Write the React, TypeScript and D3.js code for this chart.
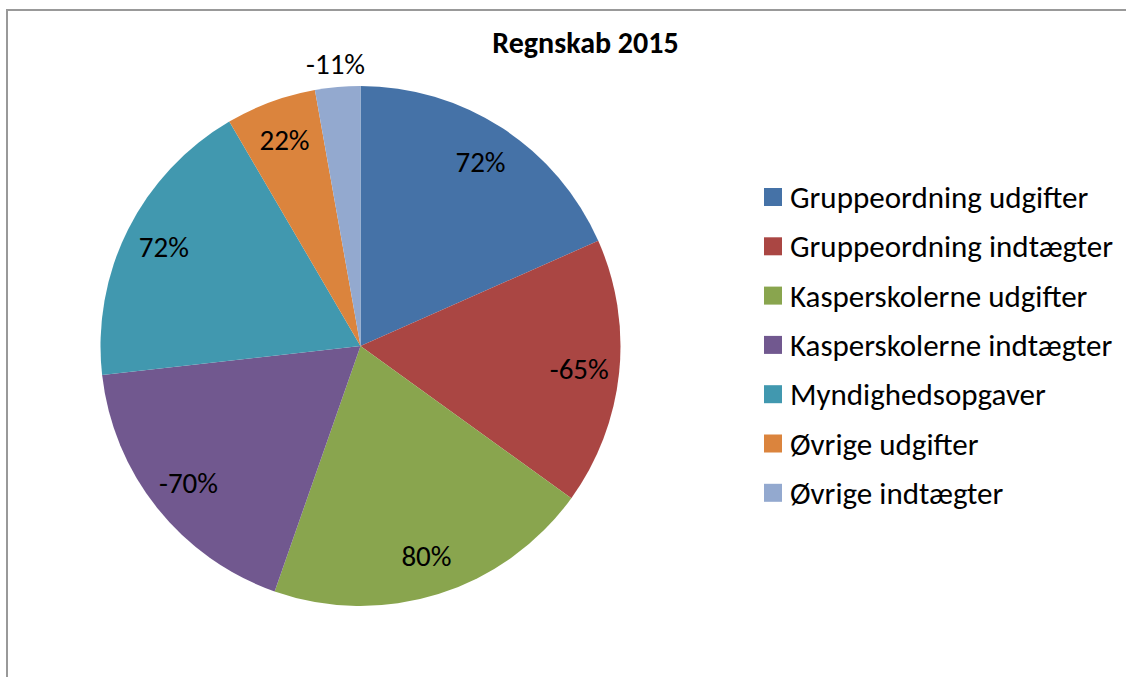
import React from "react";
import { pie, arc, PieArcDatum } from "d3";

const categories = [
  "Gruppeordning udgifter",
  "Gruppeordning indtægter",
  "Kasperskolerne udgifter",
  "Kasperskolerne indtægter",
  "Myndighedsopgaver",
  "Øvrige udgifter",
  "Øvrige indtægter",
];
const percents = [72, -65, 80, -70, 72, 22, -11];
const colors = ["#4572A7", "#AA4643", "#89A54E", "#71588F", "#4198AF", "#DB843D", "#93A9CF"];

type Slice = { name: string; value: number; color: string };

export default function App() {
  const width = 1126;
  const height = 677;
  const cx = 360.5;
  const cy = 346;
  const radius = 260;

  const data: Slice[] = categories.map((name, i) => ({ name, value: percents[i], color: colors[i] }));

  // slices sized by absolute value, clockwise from 12 o'clock, no sorting
  const layout = pie<Slice>().value((d) => Math.abs(d.value)).sort(null);
  const arcs = layout(data);

  const slicePath = arc<PieArcDatum<Slice>>().innerRadius(0).outerRadius(radius);
  const labelArc = arc<PieArcDatum<Slice>>().innerRadius(220).outerRadius(220);
  const outerLabelArc = arc<PieArcDatum<Slice>>().innerRadius(283).outerRadius(283);

  const font = "Carlito, Calibri, 'Open Sans', sans-serif";

  return (
    <svg width={width} height={height} style={{ position: "absolute", left: 0, top: 0 }}>
      <rect x={0} y={0} width={width} height={height} fill="#fff" />
      <rect x={7} y={10} width={width + 10} height={height + 10} fill="#fff" stroke="#999" strokeWidth={2} />
      <text x={585.5} y={53} textAnchor="middle" fontFamily={font} fontWeight="bold" fontSize={30} fill="#000">
        Regnskab 2015
      </text>
      <g transform={`translate(${cx},${cy})`}>
        {arcs.map((a, i) => (
          <path key={i} d={slicePath(a) || ""} fill={a.data.color} />
        ))}
        {arcs.map((a, i) => {
          const small = a.endAngle - a.startAngle < 0.25;
          const [x, y] = small ? outerLabelArc.centroid(a) : labelArc.centroid(a);
          return (
            <text
              key={i}
              x={x}
              y={y}
              textAnchor="middle"
              dominantBaseline="central"
              fontFamily={font}
              fontSize={29}
              fill="#000"
            >
              {`${a.data.value}%`}
            </text>
          );
        })}
      </g>
      <g transform="translate(764,0)">
        {data.map((d, i) => (
          <g key={i} transform={`translate(0,${197 + i * 49.3})`}>
            <rect x={0} y={-9} width={18} height={18} fill={d.color} />
            <text x={26} y={0} dominantBaseline="central" fontFamily={font} fontSize={31} fill="#000">
              {d.name}
            </text>
          </g>
        ))}
      </g>
    </svg>
  );
}
